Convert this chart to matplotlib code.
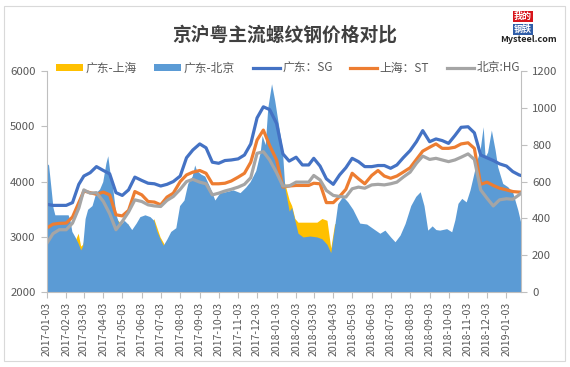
import matplotlib
matplotlib.use('Agg')
import matplotlib.pyplot as plt
import matplotlib.dates as mdates
from matplotlib.patches import Rectangle, Patch
from matplotlib.lines import Line2D
import pandas as pd

plt.rcParams['font.family'] = ['Noto Sans CJK SC', 'DejaVu Sans']

# ---- line data (left axis, yuan/t) ----
line_dates = pd.to_datetime([
    '2017-01-03', '2017-01-13', '2017-01-23', '2017-02-03', '2017-02-13', '2017-02-23',
    '2017-03-03', '2017-03-13', '2017-03-23', '2017-04-03', '2017-04-13', '2017-04-23',
    '2017-05-03', '2017-05-13', '2017-05-23', '2017-06-03', '2017-06-13', '2017-06-23',
    '2017-07-03', '2017-07-13', '2017-07-23', '2017-08-03', '2017-08-13', '2017-08-23',
    '2017-09-03', '2017-09-13', '2017-09-23', '2017-10-03', '2017-10-13', '2017-10-23',
    '2017-11-03', '2017-11-13', '2017-11-23', '2017-12-03', '2017-12-13', '2017-12-23',
    '2018-01-03', '2018-01-13', '2018-01-23', '2018-02-03', '2018-02-13', '2018-02-23',
    '2018-03-03', '2018-03-13', '2018-03-23', '2018-04-03', '2018-04-13', '2018-04-23',
    '2018-05-03', '2018-05-13', '2018-05-23', '2018-06-03', '2018-06-13', '2018-06-23',
    '2018-07-03', '2018-07-13', '2018-07-23', '2018-08-03', '2018-08-13', '2018-08-23',
    '2018-09-03', '2018-09-13', '2018-09-23', '2018-10-03', '2018-10-13', '2018-10-23',
    '2018-11-03', '2018-11-13', '2018-11-23', '2018-12-03', '2018-12-13', '2018-12-23',
    '2019-01-03', '2019-01-13', '2019-01-23', '2019-01-26'])

sg = [3590, 3570, 3570, 3570, 3620, 3950, 4100, 4160, 4270, 4200, 4140, 3800,
      3750, 3850, 4080, 4020, 3970, 3960, 3920, 3950, 4000, 4100, 4430, 4570,
      4680, 4610, 4350, 4330, 4380, 4390, 4410, 4480, 4680, 5150, 5350, 5300,
      5050, 4500, 4370, 4440, 4300, 4300, 4420, 4280, 4050, 3950, 4120, 4250,
      4420, 4360, 4270, 4270, 4290, 4290, 4240, 4300, 4430, 4560, 4720, 4920,
      4720, 4770, 4740, 4690, 4830, 4980, 4990, 4880, 4480, 4430, 4380, 4320,
      4280, 4180, 4120, 4110]

st = [3160, 3230, 3245, 3250, 3360, 3620, 3830, 3800, 3770, 3810, 3760, 3400,
      3380, 3480, 3820, 3760, 3640, 3630, 3580, 3720, 3790, 4000, 4120, 4170,
      4200, 4150, 3960, 3960, 3970, 4010, 4080, 4150, 4350, 4750, 4930, 4650,
      4390, 3900, 3920, 3930, 3930, 3930, 3970, 3960, 3620, 3620, 3730, 3860,
      4150, 4050, 3960, 4110, 4200, 4100, 4060, 4100, 4170, 4250, 4400, 4550,
      4620, 4680, 4600, 4600, 4620, 4680, 4700, 4600, 3950, 3990, 3930, 3880,
      3850, 3820, 3810, 3810]

hg = [2880, 3060, 3130, 3130, 3250, 3520, 3850, 3790, 3800, 3640, 3420, 3130,
      3280, 3450, 3670, 3640, 3580, 3560, 3550, 3660, 3730, 3860, 4000, 4040,
      3990, 3960, 3760, 3790, 3830, 3860, 3900, 3950, 4070, 4510, 4540, 4390,
      4160, 3920, 3920, 3990, 3990, 3990, 4110, 4030, 3840, 3750, 3730, 3720,
      3870, 3900, 3880, 3940, 3950, 3940, 3960, 3990, 4080, 4170, 4330, 4460,
      4400, 4420, 4390, 4360, 4390, 4440, 4500, 4400, 3850, 3700, 3560, 3670,
      3690, 3680, 3760, 3790]

# ---- area data (right axis, spreads) ----
area_dates = pd.to_datetime([
    '2017-01-03', '2017-01-06', '2017-01-10', '2017-01-13', '2017-01-16', '2017-02-06',
    '2017-02-09', '2017-02-12', '2017-02-17', '2017-02-22', '2017-02-26', '2017-03-01',
    '2017-03-05', '2017-03-09', '2017-03-16', '2017-03-22', '2017-03-28', '2017-04-02',
    '2017-04-07', '2017-04-10', '2017-04-13', '2017-04-18', '2017-04-23', '2017-04-29',
    '2017-05-06', '2017-05-12', '2017-05-18', '2017-05-25', '2017-05-31', '2017-06-08',
    '2017-06-16', '2017-06-22', '2017-06-27', '2017-07-02', '2017-07-07', '2017-07-13',
    '2017-07-19', '2017-07-27', '2017-08-02', '2017-08-09', '2017-08-15', '2017-08-22',
    '2017-08-26', '2017-08-29', '2017-09-05', '2017-09-11', '2017-09-19', '2017-09-27',
    '2017-10-05', '2017-10-14', '2017-10-26', '2017-11-06', '2017-11-15', '2017-11-22',
    '2017-12-01', '2017-12-08', '2017-12-11', '2017-12-16', '2017-12-20', '2017-12-26',
    '2017-12-31', '2018-01-05', '2018-01-12', '2018-01-16', '2018-01-23', '2018-01-27',
    '2018-02-01', '2018-02-06', '2018-02-14', '2018-02-25', '2018-03-08', '2018-03-16',
    '2018-03-24', '2018-03-30', '2018-04-05', '2018-04-10', '2018-04-18', '2018-04-26',
    '2018-05-04', '2018-05-15', '2018-05-26', '2018-06-05', '2018-06-16', '2018-06-24',
    '2018-07-03', '2018-07-10', '2018-07-18', '2018-07-26', '2018-08-04', '2018-08-12',
    '2018-08-19', '2018-08-25', '2018-08-31', '2018-09-07', '2018-09-13', '2018-09-19',
    '2018-09-30', '2018-10-08', '2018-10-13', '2018-10-18', '2018-10-24', '2018-10-31',
    '2018-11-06', '2018-11-11', '2018-11-17', '2018-11-22', '2018-11-27', '2018-11-30',
    '2018-12-04', '2018-12-10', '2018-12-16', '2018-12-20', '2018-12-28', '2019-01-05',
    '2019-01-13', '2019-01-21', '2019-01-26'])

gd_bj = [700, 690, 560, 460, 420, 420, 390, 330, 300, 265, 230, 250,
         400, 450, 470, 540, 560, 600, 700, 740, 660, 560, 420, 360,
         390, 370, 340, 375, 410, 420, 410, 390, 330, 290, 255, 290,
         330, 350, 470, 500, 590, 630, 690, 660, 640, 630, 570, 500,
         540, 545, 555, 540, 570, 600, 660, 760, 850, 800, 1000, 1130,
         1040, 930, 780, 570, 440, 460, 390, 320, 300, 305, 300, 290,
         260, 215, 355, 480, 520, 490, 450, 375, 370, 346, 320, 337,
         300, 274, 310, 373, 470, 520, 545, 470, 337, 360, 340, 337,
         345, 328, 392, 482, 509, 490, 554, 626, 716, 770, 897, 734,
         760, 879, 770, 680, 590, 572, 540, 446, 373]

gd_sh = [430, 400, 360, 340, 330, 320, 300, 270, 280, 320, 250, 260,
         300, 330, 400, 490, 450, 400, 380, 380, 380, 390, 400, 380,
         370, 370, 320, 260, 260, 290, 320, 400, 350, 300, 270, 230,
         220, 200, 110, 250, 330, 400, 430, 450, 480, 470, 420, 380,
         370, 410, 380, 330, 330, 330, 300, 380, 410, 420, 560, 650,
         660, 660, 630, 590, 500, 470, 400, 380, 380, 380, 380, 400,
         390, 240, 370, 380, 390, 300, 270, 310, 300, 160, 90, 190,
         180, 200, 200, 260, 310, 320, 350, 370, 200, 100, 90, 140,
         90, 150, 210, 260, 300, 290, 280, 300, 450, 520, 540, 480,
         430, 450, 450, 440, 430, 430, 360, 320, 300]

labels = ['广东-上海', '广东-北京', '广东：SG', '上海：ST', '北京:HG']
colors = ['#FFC000', '#5B9BD5', '#4472C4', '#ED7D31', '#A5A5A5']

fig = plt.figure(figsize=(5.7, 3.67), dpi=100)

# areas on the right axis, drawn underneath
ax_r = fig.add_axes([0.0819, 0.2035, 0.8321, 0.6035])
ax = ax_r.twinx()
ax_r.yaxis.tick_right()
ax.yaxis.tick_left()

ax_r.fill_between(area_dates, 0, gd_sh, color=colors[0], lw=0)
ax_r.fill_between(area_dates, 0, gd_bj, color=colors[1], lw=0)

ax.plot(line_dates, sg, color=colors[2], lw=2.3)
ax.plot(line_dates, st, color=colors[3], lw=2.3)
ax.plot(line_dates, hg, color=colors[4], lw=2.3)

ax.set_ylim(2000, 6000)
ax.set_yticks(range(2000, 6001, 1000))
ax_r.set_ylim(0, 1200)
ax_r.set_yticks(range(0, 1201, 200))
ax_r.set_xlim(pd.Timestamp('2017-01-03'), pd.Timestamp('2019-01-26'))
ax_r.xaxis.set_major_locator(mdates.MonthLocator(bymonthday=3))
ax_r.xaxis.set_major_formatter(mdates.DateFormatter('%Y-%m-%d'))

axis_grey = '#BFBFBF'
text_grey = '#595959'
for a in (ax, ax_r):
    for s in a.spines.values():
        s.set_visible(False)
ax.spines['left'].set_visible(True)
ax.spines['left'].set_color(axis_grey)
ax_r.spines['right'].set_visible(True)
ax_r.spines['right'].set_color(axis_grey)
ax_r.spines['bottom'].set_visible(True)
ax_r.spines['bottom'].set_color(axis_grey)

ax.tick_params(axis='y', direction='out', length=4, color=axis_grey,
               labelcolor=text_grey, labelsize=8.2, pad=4)
ax_r.tick_params(axis='y', direction='out', length=4, color=axis_grey,
                 labelcolor=text_grey, labelsize=8.2, pad=4)
ax_r.tick_params(axis='x', direction='out', length=4, color=axis_grey,
                 labelcolor=text_grey, labelsize=7.6, pad=3, labelrotation=90)

# legend
handles = [Patch(fc=colors[0]), Patch(fc=colors[1]),
           Line2D([], [], color=colors[2], lw=2.3),
           Line2D([], [], color=colors[3], lw=2.3),
           Line2D([], [], color=colors[4], lw=2.3)]
fig.legend(handles, labels, loc='center', bbox_to_anchor=(288 / 570, 1 - 68 / 367),
           ncol=5, frameon=False, fontsize=8.5, handlelength=2.3, handleheight=0.6,
           handletextpad=0.2, columnspacing=1.5, labelcolor=text_grey)

# title
fig.text(0.5, 1 - 35 / 367, '京沪粤主流螺纹钢价格对比', ha='center', va='center',
         fontsize=13.5, fontweight='bold', color='#404040')

# logo
fig.text(523 / 570, 1 - 16.5 / 367, '我的', color='white', fontsize=6.5, fontweight='bold',
         ha='center', va='center', bbox=dict(fc='#D7141A', ec='none', pad=0.6))
fig.text(523 / 570, 1 - 29.5 / 367, '钢铁', color='white', fontsize=6.5, fontweight='bold',
         ha='center', va='center', bbox=dict(fc='#2F5DA8', ec='none', pad=0.6))
fig.text(528 / 570, 1 - 40 / 367, 'Mysteel.com', color='#222222', fontsize=6.5,
         fontweight='bold', ha='center', va='center')

# chart border
fig.patches.append(Rectangle((4 / 570, 6 / 367), 561 / 570, 355 / 367,
                             transform=fig.transFigure, fill=False,
                             ec='#D9D9D9', lw=0.8))

fig.savefig('out.png', dpi=100)
